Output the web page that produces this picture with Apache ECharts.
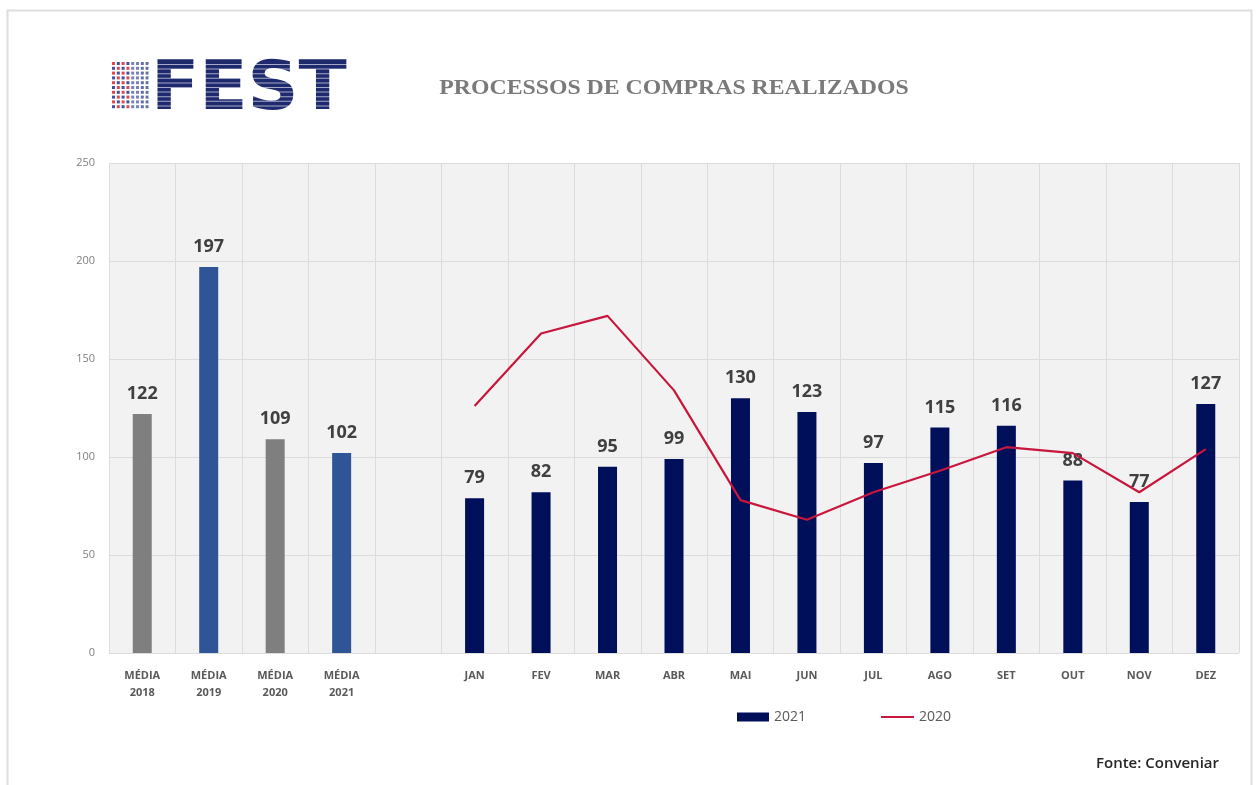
<!DOCTYPE html>
<html><head><meta charset="utf-8">
<script src="https://cdn.jsdelivr.net/npm/echarts@6/dist/echarts.min.js"></script>
<style>html,body{margin:0;padding:0;background:#fff}#c{width:1258px;height:785px}</style>
</head><body><div id="c"></div>
<script>
const categories = ['MÉDIA\n2018','MÉDIA\n2019','MÉDIA\n2020','MÉDIA\n2021','','JAN','FEV','MAR','ABR','MAI','JUN','JUL','AGO','SET','OUT','NOV','DEZ'];
const values2021 = [122,197,109,102,null,79,82,95,99,130,123,97,115,116,88,77,127];
const values2020 = [null,null,null,null,null,126,163,172,134,78,68,82,93,105,102,82,104];
const yTicks = [0,50,100,150,200,250];
const barColors = ['#7f7f7f','#2f5597','#7f7f7f','#2f5597',null,'#000f5a','#000f5a','#000f5a','#000f5a','#000f5a','#000f5a','#000f5a','#000f5a','#000f5a','#000f5a','#000f5a','#000f5a'];

const chart = echarts.init(document.getElementById('c'));

// logo decoration
const logo = [];
const dotCols = 8, dotRows = 10;
for (let c = 0; c < dotCols; c++) {
  for (let r = 0; r < dotRows; r++) {
    let color;
    if (c < 4) color = ((r + c) % 2 === 0) ? '#e0303a' : '#2a3f8f';
    else color = c < 6 ? '#4a5aa0' : '#2d3d8a';
    logo.push({type:'rect', shape:{x:112 + c*4.8, y:62 + r*4.8, width:3, height:3}, style:{fill:color, opacity: c<4?0.9:0.75}});
  }
}
logo.push({type:'text', x:151, y:57, scaleX:1.04, style:{text:'FEST', font:'bold 68px "DejaVu Sans"', fill:'#1f2a6e', textVerticalAlign:'top'}});
for (let i = 0; i < 11; i++) {
  logo.push({type:'rect', shape:{x:148, y:64 + i*4.6, width:200, height:1}, style:{fill:'#ffffff', opacity:0.6}});
}

chart.setOption({
  backgroundColor:'#ffffff',
  animation:false,
  grid:{left:109, right:19, top:163, bottom:132, show:true, backgroundColor:'#f2f2f2', borderWidth:0},
  legend:[
    {left:732, top:705, itemWidth:32, itemHeight:9,
     textStyle:{fontFamily:'Open Sans', fontSize:14, color:'#595959'},
     data:[{name:'2021', icon:'rect'}]},
    {left:876, top:705, itemWidth:33, itemHeight:2,
     textStyle:{fontFamily:'Open Sans', fontSize:14, color:'#595959'},
     data:[{name:'2020', icon:'rect'}]}
  ],
  xAxis:{
    type:'category', data:categories,
    axisLine:{show:false}, axisTick:{show:false},
    splitLine:{show:true, interval:0, lineStyle:{color:'#dcdcdc', width:1}},
    axisLabel:{interval:0, margin:14, fontFamily:'Open Sans', fontSize:11, fontWeight:'bold', color:'#595959', lineHeight:17}
  },
  yAxis:{
    type:'value', min:0, max:250, interval:50,
    axisLine:{show:false}, axisTick:{show:false},
    splitLine:{lineStyle:{color:'#dcdcdc', width:1}},
    axisLabel:{margin:14, fontFamily:'Open Sans', fontSize:11, color:'#7f7f7f',
      formatter:v => yTicks.includes(v) ? String(v) : ''}
  },
  series:[
    {name:'2021', type:'bar', barWidth:19, z:2,
      itemStyle:{color:'#000f5a'},
      data:values2021.map((v,i)=>v==null?null:{value:v, itemStyle:{color:barColors[i]}}),
      label:{show:true, position:'top', distance:11, fontFamily:'Open Sans', fontWeight:'bold', fontSize:18, color:'#404040'}
    },
    {name:'2020', type:'line', data:values2020, symbol:'none', z:3, connectNulls:false,
      lineStyle:{color:'#c8163c', width:2.2}, itemStyle:{color:'#c8163c'}}
  ],
  graphic:[
    {type:'rect', shape:{x:7.5, y:10.5, width:1244, height:790}, style:{fill:null, stroke:'#dedede', lineWidth:2}, z:-1},
    {type:'group', children:logo},
    {type:'text', x:674, y:88, scaleX:1.08, originX:0, originY:0, style:{text:'PROCESSOS DE COMPRAS REALIZADOS', font:'bold 22px "Liberation Serif"', fill:'#7a7a7a', textAlign:'center', textVerticalAlign:'middle', shadowColor:'rgba(80,100,140,0.5)', shadowBlur:2, shadowOffsetX:1, shadowOffsetY:1}},
    {type:'text', x:1219, y:764, style:{text:'Fonte: Conveniar', font:'600 15px "Open Sans"', fill:'#262626', textAlign:'right', textVerticalAlign:'middle'}}
  ]
});
</script></body></html>
